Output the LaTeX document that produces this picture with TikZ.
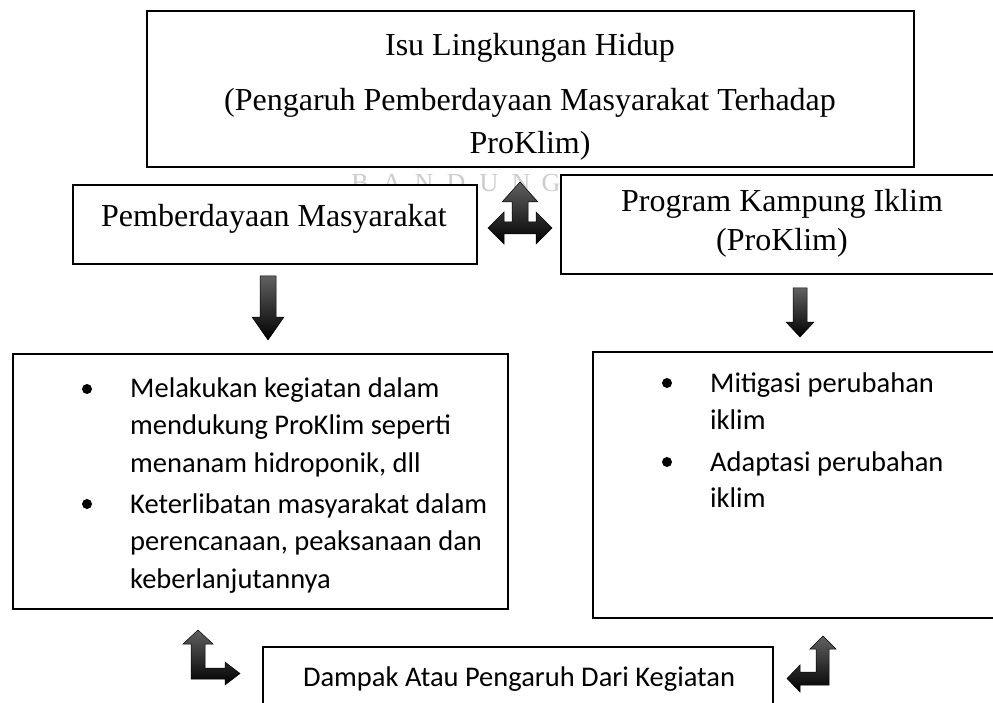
\documentclass[tikz,border=0pt]{standalone}
\usepackage{fontspec}
\setmainfont{Liberation Serif}
\newfontfamily\calfont{Carlito}
\begin{document}
\begin{tikzpicture}[x=1pt,y=-1pt,
  box/.style={draw=black, line width=1.7pt, fill=white, inner sep=0pt, anchor=north west},
  serif/.style={font=\fontsize{32}{38}\selectfont, inner sep=0pt, anchor=base},
  cal/.style={font=\calfont\fontsize{28.5}{36}\selectfont, inner sep=0pt, anchor=base west},
  blk/.style={draw=black, line width=0.5pt, top color=black!62, bottom color=black},
  bul/.style={circle, fill=black, inner sep=0pt, minimum size=10pt},
  wm/.style={font=\fontsize{26}{30}\selectfont, text=black!20, inner sep=0pt, anchor=center}]
\useasboundingbox (0,0) rectangle (993,703);
\clip (0,0) rectangle (993,703);
\fill[white] (0,0) rectangle (993,703);

% watermark
\foreach \ch/\xx [count=\i] in {B/360,A/392,N/424,D/456,U/489,N/521,G/551}
  \node[wm] (wm\i) at (\xx,183) {\ch};

% boxes
\node[box, minimum width=767, minimum height=156] (top) at (146,10) {};
\node[box, minimum width=404, minimum height=79] (pm) at (72,184) {};
\node[box, minimum width=450, minimum height=99] (pk) at (560,174) {};
\node[box, minimum width=495, minimum height=255] (kl) at (12,353) {};
\node[box, minimum width=430, minimum height=266] (kr) at (592,351) {};
\node[box, minimum width=510, minimum height=80] (dp) at (262,646) {};

% texts
\node[serif] (t1) at (530,56) {Isu Lingkungan Hidup};
\node[serif] (t2) at (530,111) {(Pengaruh Pemberdayaan Masyarakat Terhadap};
\node[serif] (t3) at (530,154) {ProKlim)};
\node[serif] (pmt) at (274,227) {Pemberdayaan Masyarakat};
\node[serif] (pk1) at (782,212) {Program Kampung Iklim};
\node[serif] (pk2) at (782,251) {(ProKlim)};

\node[bul] (b1) at (87,389) {};
\node[bul] (b2) at (87,504) {};
\node[cal] (l1) at (130,397) {Melakukan kegiatan dalam};
\node[cal] (l2) at (130,434.5) {mendukung ProKlim seperti};
\node[cal] (l3) at (130,472) {menanam hidroponik, dll};
\node[cal] (l4) at (130,513) {Keterlibatan masyarakat dalam};
\node[cal] (l5) at (130,550.5) {perencanaan, peaksanaan dan};
\node[cal] (l6) at (130,588) {keberlanjutannya};

\node[bul] (b3) at (667,383) {};
\node[bul] (b4) at (667,462) {};
\node[cal] (r1) at (710,392) {Mitigasi perubahan};
\node[cal] (r2) at (710,429) {iklim};
\node[cal] (r3) at (710,471) {Adaptasi perubahan};
\node[cal] (r4) at (710,507) {iklim};

\node[cal, anchor=base] (dpt) at (519,686) {Dampak Atau Pengaruh Dari Kegiatan};

% block arrows
\path[blk] (520,182) -- (538,202) -- (528,202) -- (528,222) -- (536,222) -- (536,212)
  -- (552,228) -- (536,244) -- (536,234) -- (504,234) -- (504,244) -- (488,228)
  -- (504,212) -- (504,222) -- (512,222) -- (512,202) -- (502,202) -- cycle;
\path[blk] (260,276) -- (276,276) -- (276,317) -- (284,317) -- (268,340) -- (252,317) -- (260,317) -- cycle;
\path[blk] (793,288) -- (807,288) -- (807,322) -- (814,322) -- (800,337) -- (786,322) -- (793,322) -- cycle;
\path[blk] (198,630) -- (213,644) -- (205,644) -- (205,668) -- (225,668) -- (225,662)
  -- (240,673.5) -- (225,685) -- (225,679) -- (191,679) -- (191,644) -- (183,644) -- cycle;
\path[blk] (823,636) -- (836,649) -- (829,649) -- (829,685) -- (800,685) -- (800,692)
  -- (787,678.5) -- (800,665) -- (800,672) -- (816,672) -- (816,649) -- (810,649) -- cycle;
\end{tikzpicture}
\end{document}
